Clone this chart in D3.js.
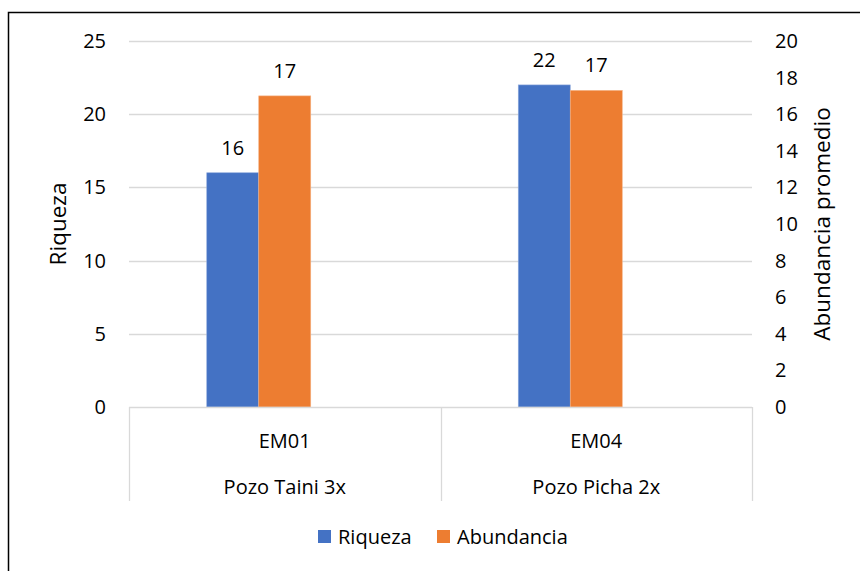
<!DOCTYPE html>
<html><head><meta charset="utf-8">
<script src="https://cdn.jsdelivr.net/npm/d3@7"></script>
<style>body{margin:0;background:#fff}svg{display:block}text{font-family:"Open Sans",sans-serif;fill:#000}</style>
</head><body><svg id="c" width="860" height="571"></svg>
<script>
const categories = ["EM01", "EM04"];
const groups = ["Pozo Taini 3x", "Pozo Picha 2x"];
const seriesNames = ["Riqueza", "Abundancia"];
const riqueza = [16, 22];
const abundancia = [17, 17.3];
const leftTicks = [0, 5, 10, 15, 20, 25];
const rightTicks = [0, 2, 4, 6, 8, 10, 12, 14, 16, 18, 20];
const colors = ["#4472C4", "#ED7D31"];

const svg = d3.select("#c");
const fs = 20, tfs = 22.5;
const L = 129, R = 752, T = 41, B = 407;
svg.append("rect").attr("x", 8.5).attr("y", 12.5).attr("width", 900).attr("height", 600)
  .attr("fill", "#fff").attr("stroke", "#000").attr("stroke-width", 1.5);

const x = d3.scaleBand().domain(categories).range([L, R]);
const yL = d3.scaleLinear().domain([0, 25]).range([B, T]);
const yR = d3.scaleLinear().domain([0, 20]).range([B, T]);
const barW = 52;

// grid
svg.append("g").selectAll("line").data(leftTicks.filter(d => d > 0)).join("line")
  .attr("x1", L).attr("x2", R).attr("y1", d => Math.round(yL(d)) + 0.5).attr("y2", d => Math.round(yL(d)) + 0.5)
  .attr("stroke", "#d9d9d9").attr("stroke-width", 1.3);

// bars
const cx = c => x(c) + x.bandwidth() / 2;
const bx = c => cx(c) - barW / 2; // group center (offset like the source)
svg.append("g").selectAll("rect").data(categories).join("rect")
  .attr("x", c => bx(c) - barW).attr("width", barW)
  .attr("y", (c, i) => yL(riqueza[i])).attr("height", (c, i) => B - yL(riqueza[i]))
  .attr("fill", colors[0]).attr("stroke", "#8faadc").attr("stroke-width", 0.6);
svg.append("g").selectAll("rect").data(categories).join("rect")
  .attr("x", c => bx(c)).attr("width", barW)
  .attr("y", (c, i) => yR(abundancia[i])).attr("height", (c, i) => B - yR(abundancia[i]))
  .attr("fill", colors[1]).attr("stroke", "#f4b183").attr("stroke-width", 0.6);

// labels
svg.append("g").selectAll("text").data(categories).join("text")
  .attr("x", c => bx(c) - barW / 2).attr("y", (c, i) => yL(riqueza[i]) - 18)
  .attr("text-anchor", "middle").attr("font-size", fs).text((c, i) => Math.round(riqueza[i]));
svg.append("g").selectAll("text").data(categories).join("text")
  .attr("x", c => bx(c) + barW / 2).attr("y", (c, i) => yR(abundancia[i]) - 18)
  .attr("text-anchor", "middle").attr("font-size", fs).text((c, i) => Math.round(abundancia[i]));

// category axis
const ax = svg.append("g");
ax.append("line").attr("x1", L).attr("x2", R).attr("y1", B + 0.5).attr("y2", B + 0.5).attr("stroke", "#d9d9d9").attr("stroke-width", 1.3);
const divs = [L, x(categories[1]), R];
ax.selectAll("line.d").data(divs).join("line").attr("class", "d")
  .attr("x1", d => Math.round(d) + 0.5).attr("x2", d => Math.round(d) + 0.5).attr("y1", B).attr("y2", 501)
  .attr("stroke", "#d9d9d9").attr("stroke-width", 1.3);
ax.selectAll("text.c").data(categories).join("text").attr("class", "c")
  .attr("x", c => cx(c)).attr("y", 441).attr("dy", "0.35em").attr("text-anchor", "middle").attr("font-size", fs).text(c => c);
ax.selectAll("text.g").data(groups).join("text").attr("class", "g")
  .attr("x", (g, i) => cx(categories[i])).attr("y", 487).attr("dy", "0.35em").attr("text-anchor", "middle").attr("font-size", fs).text(g => g);

// left axis
svg.append("g").selectAll("text").data(leftTicks).join("text")
  .attr("x", 106).attr("y", d => yL(d)).attr("dy", "0.35em").attr("text-anchor", "end").attr("font-size", fs).text(d => d);
// right axis
svg.append("g").selectAll("text").data(rightTicks).join("text")
  .attr("x", 775).attr("y", d => yR(d)).attr("dy", "0.35em").attr("text-anchor", "start").attr("font-size", fs).text(d => d);

// titles
svg.append("text").attr("transform", `translate(58.5,${(T + B) / 2}) rotate(-90)`).attr("dy", "0.35em")
  .attr("text-anchor", "middle").attr("font-size", tfs).text("Riqueza");
svg.append("text").attr("transform", `translate(822,${(T + B) / 2}) rotate(-90)`).attr("dy", "0.35em")
  .attr("text-anchor", "middle").attr("font-size", tfs).text("Abundancia promedio");

// legend
const lg = svg.append("g");
const legX = [318, 437];
seriesNames.forEach((s, i) => {
  lg.append("rect").attr("x", legX[i]).attr("y", 530).attr("width", 13).attr("height", 13).attr("fill", colors[i]);
  lg.append("text").attr("x", legX[i] + 20).attr("y", 537).attr("dy", "0.35em").attr("font-size", fs).text(s);
});
</script></body></html>
